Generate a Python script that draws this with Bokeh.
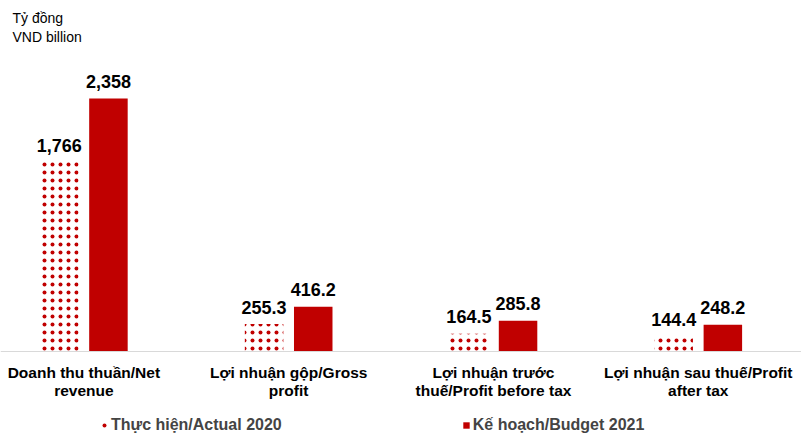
from bokeh.plotting import figure
from bokeh.models import Range1d, ColumnDataSource, Label, Span, Legend, LegendItem
from bokeh.core.properties import value
from bokeh.embed import file_html
from bokeh.resources import INLINE

categories = ["Doanh thu thuần/Net\nrevenue", "Lợi nhuận gộp/Gross\nprofit",
              "Lợi nhuận trước\nthuế/Profit before tax", "Lợi nhuận sau thuế/Profit\nafter tax"]
actual_2020 = [1766, 255.3, 164.5, 144.4]
budget_2021 = [2358, 416.2, 285.8, 248.2]
series_names = ["Thực hiện/Actual 2020", "Kế hoạch/Budget 2021"]
unit_lines = ["Tỷ đồng", "VND billion"]

RED = "#c00000"
FONT = "Liberation Sans"

def fmt(v):
    return "{:,.0f}".format(v) if v >= 1000 else "{:.1f}".format(v)

idx = list(range(len(categories)))
off = 0.12
bw = 0.188

src_a = ColumnDataSource(dict(x=[i - off for i in idx], top=actual_2020,
                              lab=[fmt(v) for v in actual_2020]))
src_b = ColumnDataSource(dict(x=[i + off for i in idx], top=budget_2021,
                              lab=[fmt(v) for v in budget_2021]))

ppu = 253.0 / 2358.0
p = figure(width=801, height=435, output_backend="svg", toolbar_location=None,
           x_range=Range1d(-0.407, 3.504),
           y_range=Range1d(-84 / ppu, 351 / ppu),
           min_border=0, min_border_left=0, min_border_right=0,
           min_border_top=0, min_border_bottom=0)
p.axis.visible = False
p.grid.visible = False
p.outline_line_color = None
p.background_fill_color = "white"
p.border_fill_color = "white"

ra = p.vbar(x="x", top="top", width=bw, source=src_a, fill_color="white",
            line_color=None, hatch_pattern="dot", hatch_color=RED,
            hatch_scale=8, hatch_weight=1.1)
rb = p.vbar(x="x", top="top", width=bw, source=src_b, fill_color=RED, line_color=None)

p.add_layout(Span(location=0, dimension="width", line_color="#d9d9d9", line_width=1))

for s in (src_a, src_b):
    p.text(x="x", y="top", text="lab", source=s, text_align="center",
           text_baseline="alphabetic", y_offset=-17, text_font=value(FONT),
           text_font_style="bold", text_font_size="18px", text_color="black")

line1 = [c.split("\n")[0] for c in categories]
line2 = [c.split("\n")[1] for c in categories]
src_c = ColumnDataSource(dict(x=idx, y=[0] * len(idx), l1=line1, l2=line2))
for col, dy in (("l1", 21), ("l2", 39)):
    p.text(x="x", y="y", text=col, source=src_c, text_align="center",
           text_baseline="middle", y_offset=dy, text_font=value(FONT),
           text_font_style="bold", text_font_size="15.5px", text_color="black")

for i, t in enumerate(unit_lines):
    p.add_layout(Label(x=12, y=435 - 17 - 19 * i, x_units="screen", y_units="screen",
                       text=t, text_font=FONT, text_font_size="14px",
                       text_color="black", text_baseline="alphabetic"))

legend = Legend(items=[LegendItem(label=series_names[0], renderers=[ra]),
                       LegendItem(label=series_names[1], renderers=[rb])],
                orientation="horizontal", location=(100, 0),
                glyph_width=8, glyph_height=8, label_standoff=3, spacing=180,
                padding=0, margin=0, border_line_alpha=0, background_fill_alpha=0,
                label_text_font=FONT, label_text_font_style="bold",
                label_text_font_size="16px", label_height=20)
p.add_layout(legend, "center")

open("out.html", "w").write(file_html(p, INLINE))
